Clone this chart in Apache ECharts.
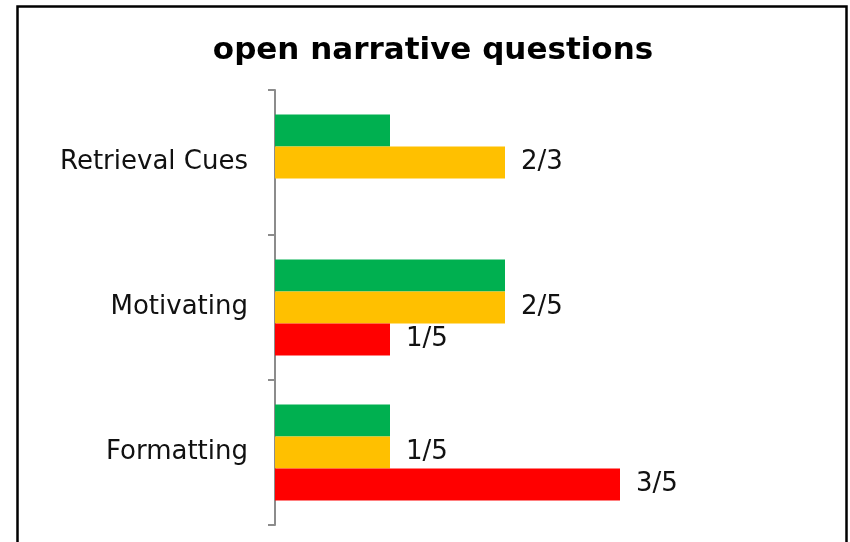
<!DOCTYPE html>
<html><head><meta charset="utf-8">
<script src="https://cdn.jsdelivr.net/npm/echarts@6/dist/echarts.min.js"></script>
<style>html,body{margin:0;padding:0;background:#fff}#c{width:850px;height:542px}</style>
</head><body><div id="c"></div>
<script>
const categories = ['Formatting', 'Motivating', 'Retrieval Cues'];
const greenValues = [1, 2, 1];
const yellowValues = [1, 2, 2];
const redValues = [3, 1, null];
const yellowLabels = ['1/5', '2/5', '2/3'];
const redLabels = ['3/5', '1/5', ''];
const titleText = 'open narrative questions';

const chart = echarts.init(document.getElementById('c'));
const FONT = 'DejaVu Sans';
function lbl(arr) {
  return {
    show: true, position: 'right', distance: 16,
    fontFamily: FONT, fontSize: 26, color: '#111',
    formatter: p => arr[p.dataIndex]
  };
}
chart.setOption({
  animation: false,
  backgroundColor: '#fff',
  title: {
    text: titleText, left: 428, textAlign: 'center', top: 30,
    textStyle: { fontFamily: FONT, fontWeight: 'bold', fontSize: 31, color: '#000' }
  },
  graphic: [{
    type: 'rect', silent: true, z: 100,
    shape: { x: 17.5, y: 6.5, width: 829, height: 620 },
    style: { fill: 'none', stroke: '#000', lineWidth: 2.5 }
  }],
  grid: { left: 275, top: 90, height: 435, width: 460 },
  xAxis: { type: 'value', min: 0, max: 4, show: false },
  yAxis: {
    type: 'category', data: categories,
    axisLine: { show: true, lineStyle: { color: '#8c8c8c', width: 2 } },
    axisTick: { show: true, length: 7, alignWithLabel: false, lineStyle: { color: '#8c8c8c', width: 2 } },
    axisLabel: { fontFamily: FONT, fontSize: 26, color: '#111', margin: 27 }
  },
  series: [
    { type: 'bar', data: greenValues, barWidth: 32, barGap: '0%', itemStyle: { color: '#00B050' } },
    { type: 'bar', data: yellowValues, barWidth: 32, barGap: '0%', itemStyle: { color: '#FFC000' }, label: lbl(yellowLabels) },
    { type: 'bar', data: redValues, barWidth: 32, barGap: '0%', itemStyle: { color: '#FF0000' }, label: lbl(redLabels) }
  ]
});
</script></body></html>
